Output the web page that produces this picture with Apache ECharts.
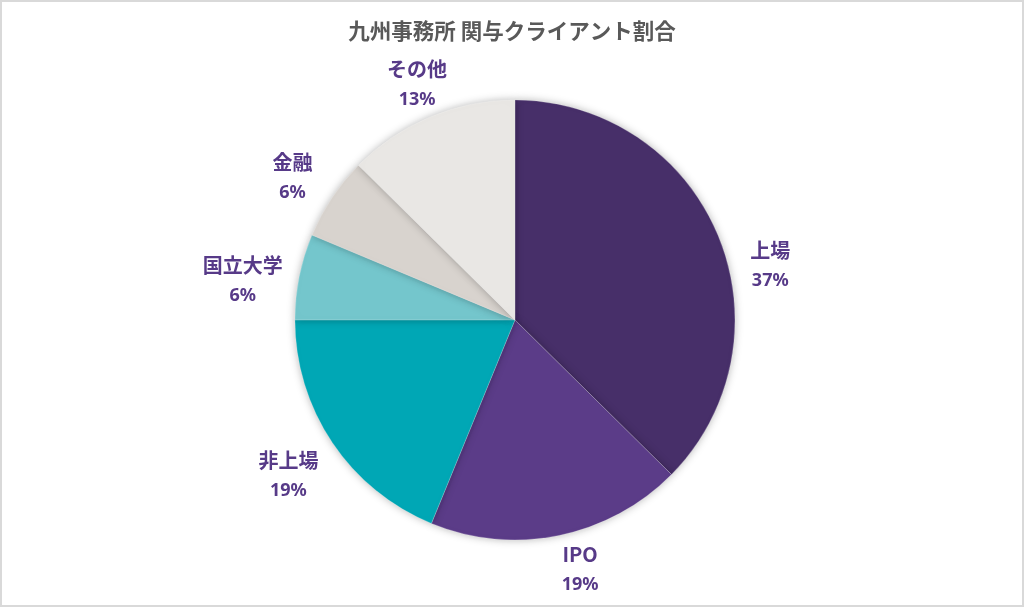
<!DOCTYPE html>
<html>
<head>
<meta charset="utf-8">
<script src="https://cdn.jsdelivr.net/npm/echarts@6/dist/echarts.min.js"></script>
<style>
html,body{margin:0;padding:0;background:#fff;}
#chart{width:1024px;height:607px;box-sizing:border-box;border:2px solid #d9d9d9;}
</style>
</head>
<body>
<div id="chart"></div>
<script>
const titleText = '九州事務所 関与クライアント割合';
const categories = ['上場', 'IPO', '非上場', '国立大学', '金融', 'その他'];
const values = [37.4, 18.8, 18.8, 6.3, 6.1, 12.6];
const colors = ['#472f69', '#5b3c88', '#00a7b5', '#74c6cc', '#d8d3ce', '#e9e7e4'];
// label placement tweaks (degrees shift from slice middle, distance from centre)
const labelAngleShift = [10.7, -3.1, -0.7, -3.1, -1.1, 0.1];
const labelDistance = [261, 258, 275, 275, 264, 255];

const chart = echarts.init(document.getElementById('chart'));
const cxPct = 0.5029, cyPct = 0.5272;
const total = values.reduce((a, b) => a + b, 0);
const mids = [];
let cum = 0;
values.forEach(v => { mids.push((cum + v / 2) / total * 360); cum += v; });

chart.setOption({
  backgroundColor: '#ffffff',
  title: {
    text: titleText,
    left: 'center',
    top: 13,
    textStyle: { fontFamily: '"Noto Sans CJK JP", "Noto Sans", sans-serif', fontSize: 21.5, fontWeight: 'bold', color: '#595959' }
  },
  series: [{
    type: 'pie',
    center: [(cxPct * 100) + '%', (cyPct * 100) + '%'],
    radius: 220,
    startAngle: 90,
    clockwise: true,
    animation: false,
    data: categories.map((c, i) => ({ name: c, value: values[i], itemStyle: { color: colors[i] } })),
    itemStyle: {
      borderColor: 'rgba(255,255,255,0.35)',
      borderWidth: 0.6,
      shadowBlur: 8,
      shadowColor: 'rgba(0,0,0,0.28)'
    },
    label: {
      show: true,
      position: 'outside',
      formatter: p => '{n|' + p.name + '}\n{p|' + Math.round(p.percent) + '%}',
      color: '#573a88',
      fontFamily: '"Noto Sans CJK JP", "Noto Sans", sans-serif',
      fontWeight: 'bold',
      rich: {
        n: { fontSize: 20, fontWeight: 'bold', color: '#573a88', lineHeight: 31, align: 'center', fontFamily: '"Noto Sans CJK JP", sans-serif' },
        p: { fontSize: 18, fontWeight: 'bold', color: '#573a88', lineHeight: 31, align: 'center', fontFamily: '"Noto Sans", "Noto Sans CJK JP", sans-serif' }
      }
    },
    labelLine: { show: false },
    labelLayout: function (p) {
      const i = p.dataIndex;
      const cx = chart.getWidth() * cxPct, cy = chart.getHeight() * cyPct;
      const a = (mids[i] + labelAngleShift[i]) * Math.PI / 180;
      const r = labelDistance[i];
      return { x: cx + r * Math.sin(a), y: cy - r * Math.cos(a), align: 'center', verticalAlign: 'middle' };
    }
  }]
});
</script>
</body>
</html>
